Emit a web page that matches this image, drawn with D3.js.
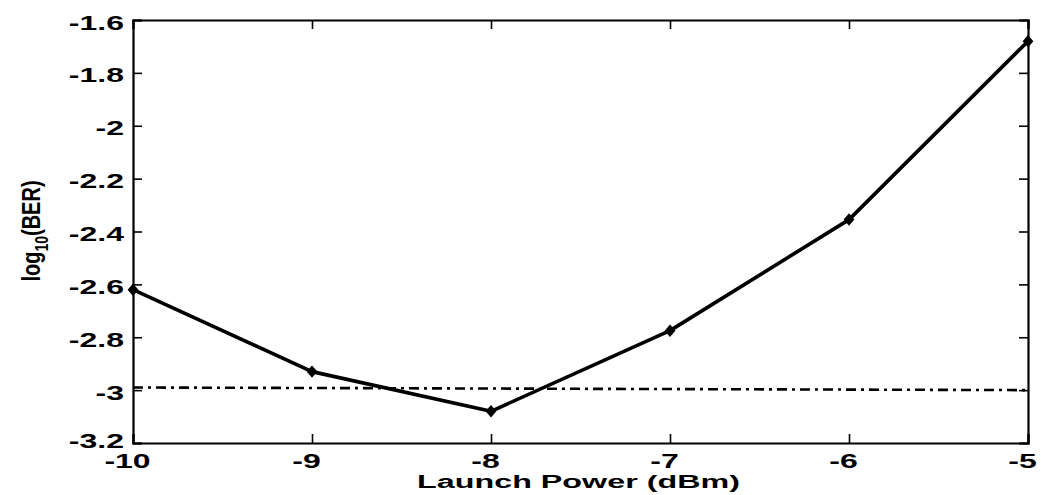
<!DOCTYPE html>
<html>
<head>
<meta charset="utf-8">
<script src="https://cdn.jsdelivr.net/npm/d3@7"></script>
<style>
  body { margin: 0; background: #fff; }
  svg text { font-family: "Liberation Sans", Arial, sans-serif; font-weight: bold; fill: #000; }
</style>
</head>
<body>
<div id="chart"></div>
<script>
// data
const power = [-10, -9, -8, -7, -6, -5];
const logBer = [-2.62, -2.93, -3.08, -2.775, -2.355, -1.68];
const thresholdX = [-10, -5];
const thresholdY = [-2.99, -3.0];
const xTicks = [-10, -9, -8, -7, -6, -5];
const yTicks = [-1.6, -1.8, -2, -2.2, -2.4, -2.6, -2.8, -3, -3.2];

const W = 1041, H = 495;
const margin = {top: 20, right: 13, bottom: 52, left: 133};
const stretch = 1.6; // labels in the scan look wide

// plain hyphen minus like the original
const fmt = d => String(d);

const svg = d3.select("#chart").append("svg")
    .attr("width", W)
    .attr("height", H);

const x = d3.scaleLinear().domain([-10, -5]).range([margin.left, W - margin.right]);
const y = d3.scaleLinear().domain([-3.2, -1.6]).range([H - margin.bottom, margin.top]);

// axes, ticks pointing inward like matlab
const left = svg.append("g")
    .attr("transform", "translate(" + margin.left + ",0)")
    .call(d3.axisLeft(y).tickValues(yTicks).tickSize(-9).tickPadding(9).tickFormat(fmt));
left.selectAll("text")
    .attr("x", 0).attr("dy", "0.4em")
    .attr("transform", d => "translate(-9," + (d === -3.2 ? -4 : 1) + ") scale(" + stretch + ",1)")
    .style("font-size", "20px");

const bottom = svg.append("g")
    .attr("transform", "translate(0," + (H - margin.bottom) + ")")
    .call(d3.axisBottom(x).tickValues(xTicks).tickSize(-9).tickPadding(0).tickFormat(fmt));
bottom.selectAll("text")
    .attr("y", 0).attr("dy", 0)
    .attr("transform", "translate(-6,25) scale(" + stretch + ",1)")
    .style("font-size", "20px");

svg.append("g")
    .attr("transform", "translate(" + (W - margin.right) + ",0)")
    .call(d3.axisRight(y).tickValues(yTicks).tickSize(-9).tickFormat(""));
svg.append("g")
    .attr("transform", "translate(0," + margin.top + ")")
    .call(d3.axisTop(x).tickValues(xTicks).tickSize(-9).tickFormat(""));

svg.selectAll(".domain").attr("stroke-width", 2.2);
svg.selectAll(".tick line").attr("stroke-width", 1.6);

// threshold line
const thr = thresholdX.map((d, i) => [d, thresholdY[i]]);
svg.append("path")
    .datum(thr)
    .attr("fill", "none")
    .attr("stroke", "#000")
    .attr("stroke-width", 2.6)
    .attr("stroke-dasharray", "10,5,3,5")
    .attr("d", d3.line().x(d => x(d[0])).y(d => y(d[1])));

// BER curve
const pts = power.map((d, i) => [d, logBer[i]]);
svg.append("path")
    .datum(pts)
    .attr("fill", "none")
    .attr("stroke", "#000")
    .attr("stroke-width", 3.6)
    .attr("stroke-linejoin", "round")
    .attr("d", d3.line().x(d => x(d[0])).y(d => y(d[1])));

svg.selectAll(".marker")
    .data(pts)
    .enter().append("path")
    .attr("class", "marker")
    .attr("transform", d => "translate(" + x(d[0]) + "," + y(d[1]) + ") scale(1.5,1)")
    .attr("d", d3.symbol().type(d3.symbolDiamond).size(45))
    .attr("fill", "#000");

// axis titles
svg.append("text")
    .attr("transform", "translate(" + ((margin.left + W - margin.right) / 2 - 2) + ",488) scale(1.7,1)")
    .attr("text-anchor", "middle")
    .style("font-size", "19px")
    .text("Launch Power (dBm)");

const yl = svg.append("text")
    .attr("transform", "translate(40,231) rotate(-90) scale(1,1.3)")
    .attr("text-anchor", "middle")
    .style("font-size", "20px");
yl.append("tspan").text("log");
yl.append("tspan").attr("dy", 6).style("font-size", "14px").text("10");
yl.append("tspan").attr("dy", -6).text("(BER)");
</script>
</body>
</html>
